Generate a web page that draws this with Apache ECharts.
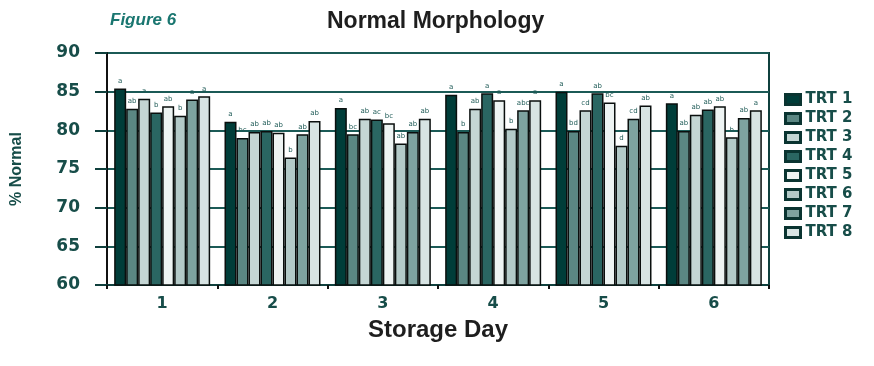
<!DOCTYPE html>
<html>
<head>
<meta charset="utf-8">
<script src="https://cdn.jsdelivr.net/npm/echarts@6/dist/echarts.min.js"></script>
<style>
  html, body { margin: 0; padding: 0; background: #ffffff; }
  #chart { width: 874px; height: 366px; }
</style>
</head>
<body>
<div id="chart"></div>
<script>
// Storage days on the category axis
const days = ['1', '2', '3', '4', '5', '6'];

// % normal morphology per treatment, one value per storage day
const trt1 = [85.4, 81.1, 82.9, 84.6, 85.0, 83.5];
const trt2 = [82.8, 79.0, 79.5, 79.8, 79.9, 79.9];
const trt3 = [84.1, 79.8, 81.5, 82.8, 82.6, 82.0];
const trt4 = [82.3, 79.9, 81.4, 84.8, 84.8, 82.7];
const trt5 = [83.1, 79.7, 80.9, 83.9, 83.6, 83.1];
const trt6 = [81.9, 76.5, 78.3, 80.2, 78.0, 79.1];
const trt7 = [84.0, 79.5, 79.8, 82.6, 81.5, 81.6];
const trt8 = [84.4, 81.2, 81.5, 83.9, 83.2, 82.6];

// Significance letters printed above each bar
const sig1 = ['a', 'a', 'a', 'a', 'a', 'a'];
const sig2 = ['ab', 'bc', 'bc', 'b', 'bd', 'ab'];
const sig3 = ['a', 'ab', 'ab', 'ab', 'cd', 'ab'];
const sig4 = ['b', 'ab', 'ac', 'a', 'ab', 'ab'];
const sig5 = ['ab', 'ab', 'bc', 'a', 'bc', 'ab'];
const sig6 = ['b', 'b', 'ab', 'b', 'd', 'b'];
const sig7 = ['a', 'ab', 'ab', 'abc', 'cd', 'ab'];
const sig8 = ['a', 'ab', 'ab', 'a', 'ab', 'a'];

// Y axis range and step
const yMin = 60, yMax = 90, yStep = 5;

const treatments = [
  { name: 'TRT 1', values: trt1, letters: sig1, color: '#003d39' },
  { name: 'TRT 2', values: trt2, letters: sig2, color: '#5b8783' },
  { name: 'TRT 3', values: trt3, letters: sig3, color: '#c4d6d4' },
  { name: 'TRT 4', values: trt4, letters: sig4, color: '#2a6662' },
  { name: 'TRT 5', values: trt5, letters: sig5, color: '#eef4f3' },
  { name: 'TRT 6', values: trt6, letters: sig6, color: '#b3cac8' },
  { name: 'TRT 7', values: trt7, letters: sig7, color: '#7ea3a0' },
  { name: 'TRT 8', values: trt8, letters: sig8, color: '#d7e4e3' }
];

const teal = '#174d49';
const tickFont = 'DejaVu Sans';

const chart = echarts.init(document.getElementById('chart'), null, { renderer: 'canvas' });

chart.setOption({
  animation: false,
  backgroundColor: '#ffffff',
  title: [
    {
      text: 'Figure 6',
      left: 105, top: 7,
      textStyle: { fontFamily: 'Liberation Sans', fontStyle: 'italic', fontWeight: 'bold', fontSize: 17, color: '#1a7670' }
    },
    {
      text: 'Normal Morphology',
      left: 322, top: 5,
      textStyle: { fontFamily: 'Liberation Sans', fontWeight: 'bold', fontSize: 23, color: '#1e1e1e' }
    }
  ],
  legend: {
    orient: 'vertical',
    left: 779, top: 87,
    itemWidth: 15, itemHeight: 10, itemGap: 4,
    icon: 'rect',
    itemStyle: { borderColor: '#0a3431', borderWidth: 3 },
    textStyle: { fontFamily: tickFont, fontWeight: 'bold', fontSize: 15, lineHeight: 14, color: teal },
    data: treatments.map(t => t.name)
  },
  grid: {
    left: 107, right: 105, top: 53, bottom: 81,
    show: true, borderColor: '#0f403d', borderWidth: 2, backgroundColor: 'transparent'
  },
  xAxis: {
    type: 'category',
    data: days,
    name: 'Storage Day',
    nameLocation: 'middle',
    nameGap: 33,
    nameTextStyle: { fontFamily: 'Liberation Sans', fontWeight: 'bold', fontSize: 24, color: '#1e1e1e' },
    axisLine: { lineStyle: { color: '#0f403d', width: 2 } },
    axisTick: { show: true, length: 4, lineStyle: { color: '#111', width: 2 } },
    axisLabel: { margin: 11, fontFamily: tickFont, fontWeight: 'bold', fontSize: 16, color: teal }
  },
  yAxis: {
    type: 'value',
    min: yMin, max: yMax, interval: yStep,
    name: '% Normal',
    nameLocation: 'middle',
    nameRotate: 90,
    nameGap: 82,
    nameTextStyle: { fontFamily: 'Liberation Sans', fontWeight: 'bold', fontSize: 16, color: teal },
    axisLine: { show: true, lineStyle: { color: '#111', width: 2 } },
    axisTick: { show: true, length: 12, lineStyle: { color: '#0f403d', width: 2 } },
    axisLabel: { margin: 27, fontFamily: tickFont, fontWeight: 'bold', fontSize: 17, color: teal },
    splitLine: { show: true, lineStyle: { color: '#1b5a56', width: 2 } }
  },
  series: treatments.map(t => ({
    name: t.name,
    type: 'bar',
    data: t.values,
    barCategoryGap: '13%',
    barGap: '0%',
    itemStyle: { color: t.color, borderColor: '#0a0f0e', borderWidth: 1.5 },
    label: {
      show: true,
      position: 'top',
      distance: 4,
      fontFamily: 'DejaVu Sans',
      fontSize: 7,
      color: '#1f5b57',
      formatter: p => t.letters[p.dataIndex]
    }
  }))
});
</script>
</body>
</html>
